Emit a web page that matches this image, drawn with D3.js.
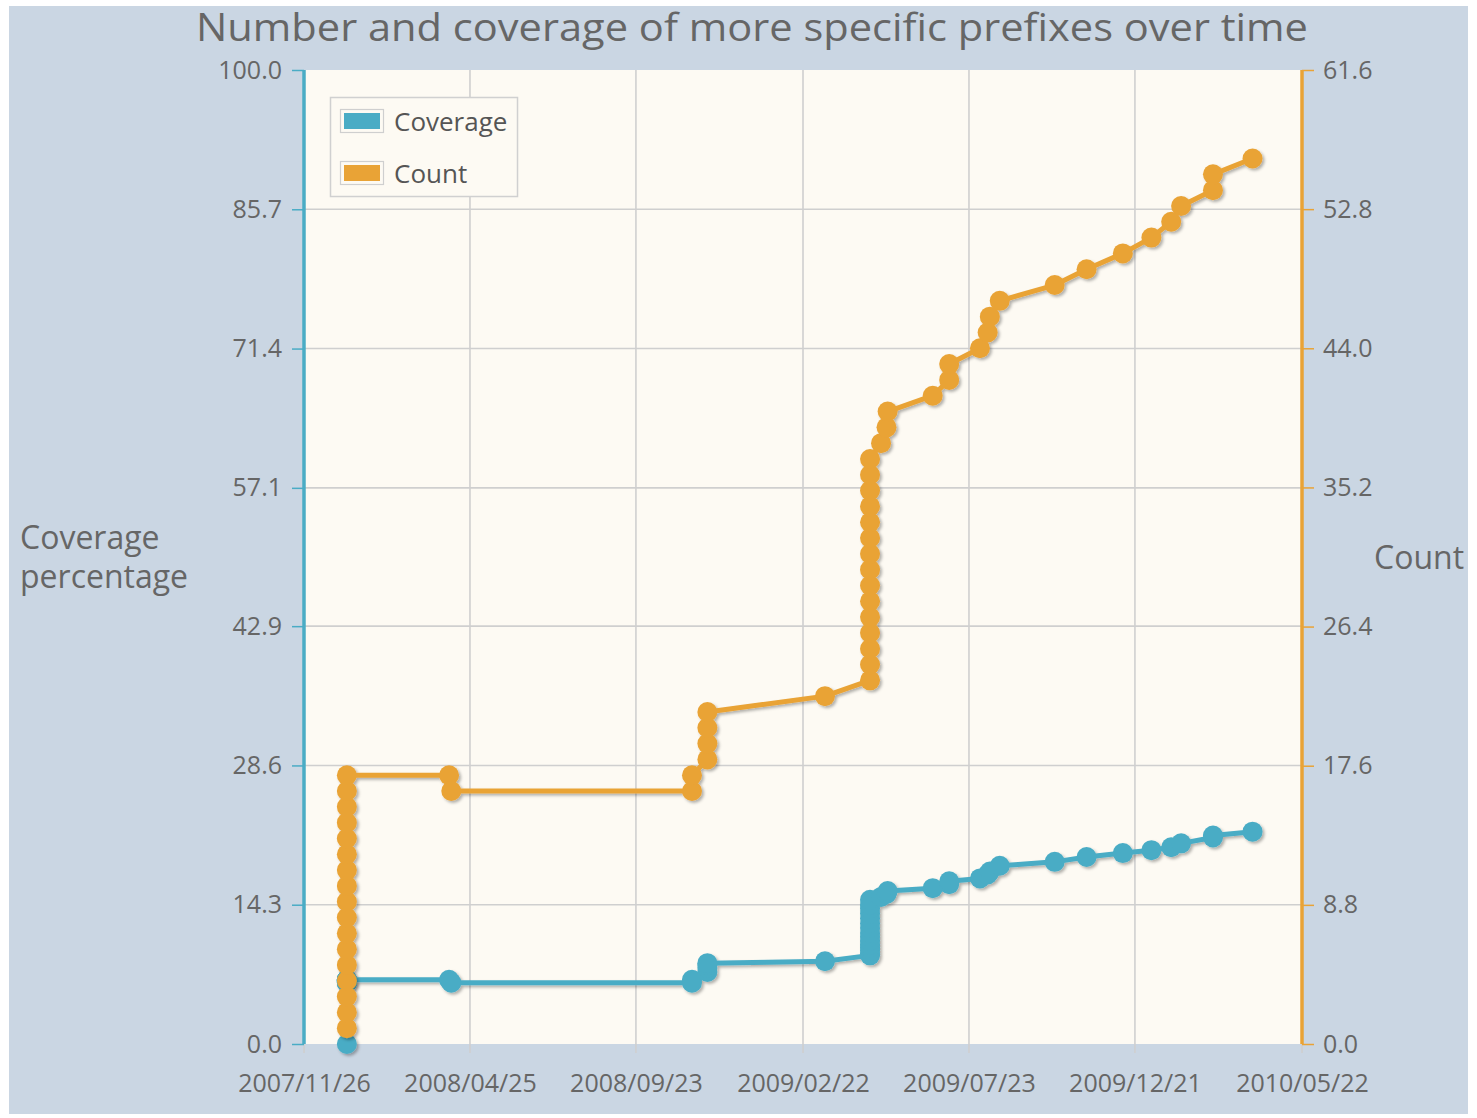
<!DOCTYPE html>
<html><head><meta charset="utf-8">
<script src="https://cdn.jsdelivr.net/npm/d3@7"></script>
<style>
body{margin:0;background:#fff;}
svg{display:block;font-family:"Open Sans",sans-serif;}
</style>
</head><body>
<svg id="c" width="1477" height="1118"></svg>
<script>
const titleText = "Number and coverage of more specific prefixes over time";
const xTickLabels = ["2007/11/26","2008/04/25","2008/09/23","2009/02/22","2009/07/23","2009/12/21","2010/05/22"];
const coverageTicks = [0.0,14.3,28.6,42.9,57.1,71.4,85.7,100.0];
const countTicks = [0.0,8.8,17.6,26.4,35.2,44.0,52.8,61.6];
const seriesNames = ["Coverage","Count"];
const seriesColors = ["#4aacc5","#e9a336"];

const dates = [
 "2008/01/04","2008/01/04","2008/01/04","2008/01/04","2008/01/04","2008/01/04","2008/01/04","2008/01/04","2008/01/04",
 "2008/01/04","2008/01/04","2008/01/04","2008/01/04","2008/01/04","2008/01/04","2008/01/04","2008/01/04",
 "2008/04/06","2008/04/08",
 "2008/11/13","2008/11/13",
 "2008/11/27","2008/11/27","2008/11/27","2008/11/27",
 "2009/03/14",
 "2009/04/24","2009/04/24","2009/04/24","2009/04/24","2009/04/24","2009/04/24","2009/04/24","2009/04/24",
 "2009/04/24","2009/04/24","2009/04/24","2009/04/24","2009/04/24","2009/04/24","2009/04/24",
 "2009/05/04","2009/05/09","2009/05/10",
 "2009/06/20",
 "2009/07/05","2009/07/05",
 "2009/08/02","2009/08/09","2009/08/11","2009/08/20","2009/10/09","2009/11/07","2009/12/10",
 "2010/01/05","2010/01/23","2010/02/01","2010/03/02","2010/03/02","2010/04/07"
];
const count = [
 1,2,3,4,5,6,7,8,9,10,11,12,13,14,15,16,17,
 17,16,
 16,17,
 18,19,20,21,
 22,
 23,24,25,26,27,28,29,30,31,32,33,34,35,36,37,
 38,39,40,
 41,
 42,43,
 44,45,46,47,48,49,50,51,52,53,54,55,56
];
const coverage = [
 0.0,6.3,6.3,6.4,6.4,6.4,6.5,6.5,6.5,6.5,6.5,6.6,6.6,6.6,6.6,6.6,6.6,
 6.6,6.3,
 6.3,6.6,
 7.4,7.8,8.1,8.3,
 8.5,
 9.1,9.3,9.6,9.9,10.2,10.6,11.0,11.4,11.9,12.4,12.9,13.4,13.9,14.3,14.8,
 15.1,15.4,15.7,
 16.0,
 16.4,16.7,
 17.0,17.4,17.7,18.3,18.7,19.2,19.6,19.9,20.2,20.6,21.2,21.4,21.8
];

const parse = d3.timeParse("%Y/%m/%d");
const svg = d3.select("#c");
const L = 304, R = 1302, T = 70, B = 1044;

const defs = svg.append("defs");
const f = defs.append("filter").attr("id","sh").attr("x","-20%").attr("y","-20%").attr("width","140%").attr("height","140%");
f.append("feDropShadow").attr("dx",2).attr("dy",2).attr("stdDeviation",1.5).attr("flood-color","#000").attr("flood-opacity",0.3);
const fb = defs.append("filter").attr("id","shb").attr("x","-5%").attr("y","-50%").attr("width","110%").attr("height","300%");
fb.append("feDropShadow").attr("dx",0).attr("dy",2).attr("stdDeviation",1.5).attr("flood-color","#000").attr("flood-opacity",0.25);

// backgrounds
svg.append("rect").attr("x",9).attr("y",6).attr("width",1459).attr("height",1108).attr("fill","#cad6e3");
svg.append("rect").attr("x",L).attr("y",T).attr("width",R-L).attr("height",B-T).attr("fill","#fdfaf3");

const x = d3.scaleTime().domain([parse(xTickLabels[0]), parse(xTickLabels[xTickLabels.length-1])]).range([L, R]);
const yL = d3.scaleLinear().domain([0,100]).range([B,T]);
const yR = d3.scaleLinear().domain([0,61.6]).range([B,T]);

// grid
const g = svg.append("g");
g.selectAll(".vg").data(xTickLabels).join("line")
 .attr("x1",d=>x(parse(d))).attr("x2",d=>x(parse(d))).attr("y1",T).attr("y2",B+9)
 .attr("stroke","#cfcfcf").attr("stroke-width",1.6);
g.selectAll(".hg").data(coverageTicks.slice(1,-1)).join("line")
 .attr("x1",L).attr("x2",R).attr("y1",d=>yL(d)).attr("y2",d=>yL(d))
 .attr("stroke","#cfcfcf").attr("stroke-width",1.6);

// border top/bottom
svg.append("line").attr("x1",L).attr("x2",R).attr("y1",T).attr("y2",T).attr("stroke","#9a9a9a").attr("stroke-width",3).attr("filter","url(#shb)");
svg.append("line").attr("x1",L).attr("x2",R).attr("y1",B).attr("y2",B).attr("stroke","#a8a8a8").attr("stroke-width",2.5).attr("filter","url(#shb)");

// axes
const xAxis = d3.axisBottom(x).tickValues(xTickLabels.map(parse)).tickFormat(d3.timeFormat("%Y/%m/%d")).tickSize(0).tickPadding(30);
const gx = svg.append("g").attr("transform",`translate(0,${B})`).call(xAxis).attr("font-family",null).attr("font-size",null);
gx.select(".domain").remove();
gx.selectAll("text").attr("fill","#666").style("font-size","25px");

const lAxis = d3.axisLeft(yL).tickValues(coverageTicks).tickFormat(d3.format(".1f")).tickSize(12).tickPadding(10);
const gl = svg.append("g").attr("transform",`translate(${L},0)`).call(lAxis).attr("font-family",null).attr("font-size",null);
gl.select(".domain").remove();
gl.selectAll("line").attr("stroke","#4aacc5").attr("stroke-width",1.5);
gl.selectAll("text").attr("fill","#666").style("font-size","25px");

const rAxis = d3.axisRight(yR).tickValues(countTicks).tickFormat(d3.format(".1f")).tickSize(12).tickPadding(9);
const gr = svg.append("g").attr("transform",`translate(${R},0)`).call(rAxis).attr("font-family",null).attr("font-size",null);
gr.select(".domain").remove();
gr.selectAll("line").attr("stroke","#e9a336").attr("stroke-width",1.5);
gr.selectAll("text").attr("fill","#666").style("font-size","25px");

svg.append("line").attr("x1",L).attr("x2",L).attr("y1",T).attr("y2",B).attr("stroke","#4aacc5").attr("stroke-width",3.5);
svg.append("line").attr("x1",R).attr("x2",R).attr("y1",T).attr("y2",B).attr("stroke","#e9a336").attr("stroke-width",3.5);

// series
const data = dates.map((d,i)=>({t:parse(d), cov:coverage[i], cnt:count[i]}));
const series = [
 {name:seriesNames[0], color:seriesColors[0], y:d=>yL(d.cov)},
 {name:seriesNames[1], color:seriesColors[1], y:d=>yR(d.cnt)}
];
series.forEach(s=>{
 const sg = svg.append("g").attr("filter","url(#sh)");
 sg.append("path").datum(data).attr("fill","none").attr("stroke",s.color).attr("stroke-width",5)
  .attr("stroke-linejoin","round")
  .attr("d", d3.line().x(d=>x(d.t)).y(s.y));
 sg.selectAll("circle").data(data).join("circle")
  .attr("cx",d=>x(d.t)).attr("cy",s.y).attr("r",10).attr("fill",s.color);
});

// title
svg.append("text").attr("x",752).attr("y",41).attr("text-anchor","middle")
 .attr("textLength",1112).attr("lengthAdjust","spacingAndGlyphs")
 .attr("fill","#666").style("font-size","39px").text(titleText);

// axis titles
const at = svg.append("text").attr("fill","#666").style("font-size","32px");
at.append("tspan").attr("x",20).attr("y",549).text("Coverage");
at.append("tspan").attr("x",20).attr("y",588).text("percentage");
svg.append("text").attr("fill","#666").style("font-size","32px").attr("x",1374).attr("y",569).text("Count");

// legend
const lg = svg.append("g");
lg.append("rect").attr("x",330.5).attr("y",97.5).attr("width",187).attr("height",99).attr("fill","#fdfaf3").attr("stroke","#d0d0d0").attr("stroke-width",1.5);
series.forEach((s,i)=>{
 const cy = 121 + i*52;
 lg.append("rect").attr("x",340.5).attr("y",cy-11.5).attr("width",43).attr("height",23).attr("fill","none").attr("stroke","#cfcfcf").attr("stroke-width",1.2);
 lg.append("rect").attr("x",344).attr("y",cy-8).attr("width",36).attr("height",16).attr("fill",s.color);
 lg.append("text").attr("x",394).attr("y",cy+10).attr("fill","#555").style("font-size","26px").text(s.name);
});
</script>
</body></html>
